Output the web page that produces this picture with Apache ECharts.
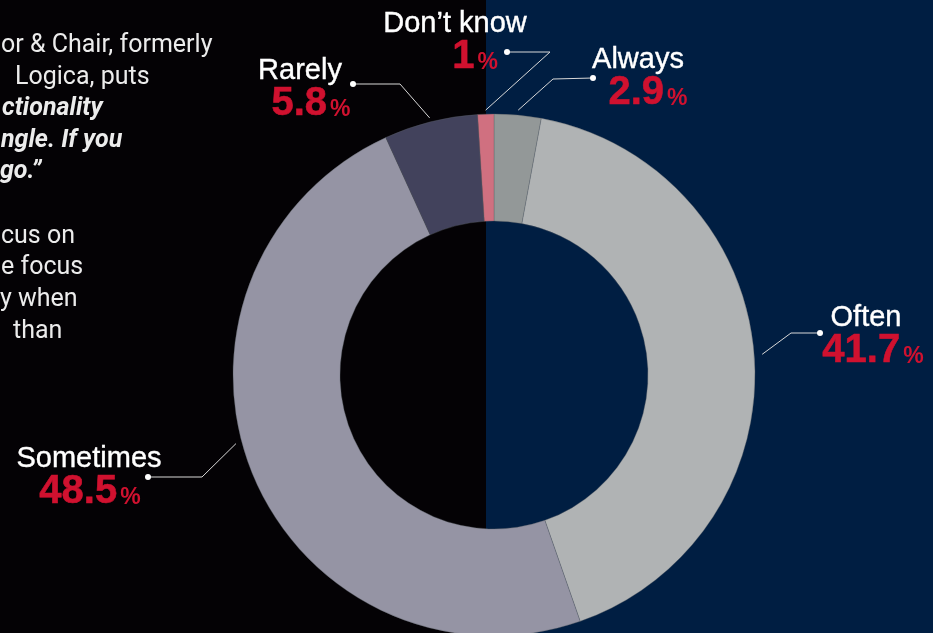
<!DOCTYPE html>
<html>
<head>
<meta charset="utf-8">
<script src="https://cdn.jsdelivr.net/npm/echarts@6/dist/echarts.min.js"></script>
<style>
html,body{margin:0;padding:0;background:#001e42;}
#main{width:933px;height:633px;}
</style>
</head>
<body>
<div id="main"></div>
<script>
// ---- data ----
const categories = ["Always", "Often", "Sometimes", "Rarely", "Don\u2019t know"];
const values = [2.9, 41.7, 48.5, 5.8, 1];
const colors = ["#939898", "#b0b3b4", "#9594a4", "#42425c", "#d07080"];

// ---- left, partially cropped article text ----
const bodyLines = [
  {t: "or & Chair, formerly", x: 1, y: 46, b: false},
  {t: "Logica, puts", x: 15, y: 78, b: false},
  {t: "ctionality", x: 2, y: 109, b: true},
  {t: "ngle. If you", x: 1, y: 141, b: true},
  {t: "go.\u201d", x: 0, y: 172, b: true},
  {t: "cus on", x: 1, y: 237, b: false},
  {t: "e focus", x: 1, y: 268, b: false},
  {t: "y when", x: 0, y: 300, b: false},
  {t: "than", x: 13, y: 332, b: false}
];

// ---- label layout (styling) ----
const CX = 494, CY = 375, R_IN = 154, R_OUT = 261;
const labelCfg = [
  {lx: 638, ly: 78, elbow: [553, 79], end: [593, 78], nudge: 0, gap: 5, shift: 10},
  {lx: 866, ly: 336, elbow: [791, 333], end: [820, 333], nudge: 0, gap: 8, shift: 7},
  {lx: 89, ly: 477, elbow: [202, 477], end: [148, 477], nudge: 7, gap: 6, shift: 1},
  {lx: 300, ly: 89, elbow: [400, 84], end: [353, 84], nudge: 0, gap: 4, shift: 11},
  {lx: 455, ly: 42, elbow: [550, 52], end: [507, 52], nudge: 0, gap: 4, shift: 20}
];

const total = values.reduce((a, b) => a + b, 0);
function anchorPoint(i) {
  let before = 0;
  for (let k = 0; k < i; k++) before += values[k];
  const mid = (before + values[i] / 2) / total * 360 + labelCfg[i].nudge;
  const a = mid * Math.PI / 180;
  const r = R_OUT + labelCfg[i].gap;
  return [CX + r * Math.sin(a), CY - r * Math.cos(a)];
}

const red = "#d0112f";
const FONT = "Liberation Sans, Arial, sans-serif";
const rich = {
  n: {color: "#ffffff", fontSize: 29, fontFamily: FONT, lineHeight: 33, textBorderColor: "#ffffff", textBorderWidth: 0.4},
  p: {color: red, fontSize: 23, fontWeight: "bold", fontFamily: FONT, lineHeight: 37, verticalAlign: "bottom", padding: [0, 0, 3, 3]}
};
labelCfg.forEach((c, i) => {
  rich["v" + i] = {color: red, fontSize: 40, fontWeight: "bold", fontFamily: FONT, lineHeight: 37, verticalAlign: "bottom",
    textBorderColor: red, textBorderWidth: 0.6, padding: [0, 0, 0, c.shift * 2]};
});

const graphics = [
  {type: "rect", z: -10, silent: true, shape: {x: 0, y: 0, width: 486, height: 633}, style: {fill: "#040205"}}
];
bodyLines.forEach(l => {
  graphics.push({
    type: "text", z: 1, silent: true, x: l.x, y: l.y,
    style: {text: l.t, fill: "#ececec", fontSize: 25, fontFamily: "Roboto, sans-serif",
      fontWeight: l.b ? "bold" : "normal", fontStyle: l.b ? "italic" : "normal",
      textVerticalAlign: "middle", textAlign: "left"}
  });
});
labelCfg.forEach(c => {
  graphics.push({type: "circle", z: 100, silent: true, shape: {cx: c.end[0], cy: c.end[1], r: 3}, style: {fill: "#ffffff"}});
});

const chart = echarts.init(document.getElementById("main"), null, {renderer: "canvas"});
chart.setOption({
  backgroundColor: "#001e42",
  animation: false,
  graphic: graphics,
  series: [{
    type: "pie",
    center: [CX, CY],
    radius: [R_IN, R_OUT],
    startAngle: 90,
    clockwise: true,
    avoidLabelOverlap: false,
    itemStyle: {borderColor: "rgba(90,95,100,0.6)", borderWidth: 0.6},
    emphasis: {disabled: true},
    data: categories.map((c, i) => ({name: c, value: values[i], itemStyle: {color: colors[i]}})),
    label: {
      show: true,
      position: "outside",
      formatter: p => "{n|" + p.name + "}\n{v" + p.dataIndex + "|" + p.value + "}{p|%}",
      rich: rich
    },
    labelLine: {show: true, lineStyle: {color: "#d8d8d8", width: 1}},
    labelLayout: function (params) {
      const i = params.dataIndex;
      const c = labelCfg[i];
      return {
        x: c.lx, y: c.ly, align: "center", verticalAlign: "middle",
        labelLinePoints: [anchorPoint(i), c.elbow, c.end]
      };
    }
  }]
});
</script>
</body>
</html>
